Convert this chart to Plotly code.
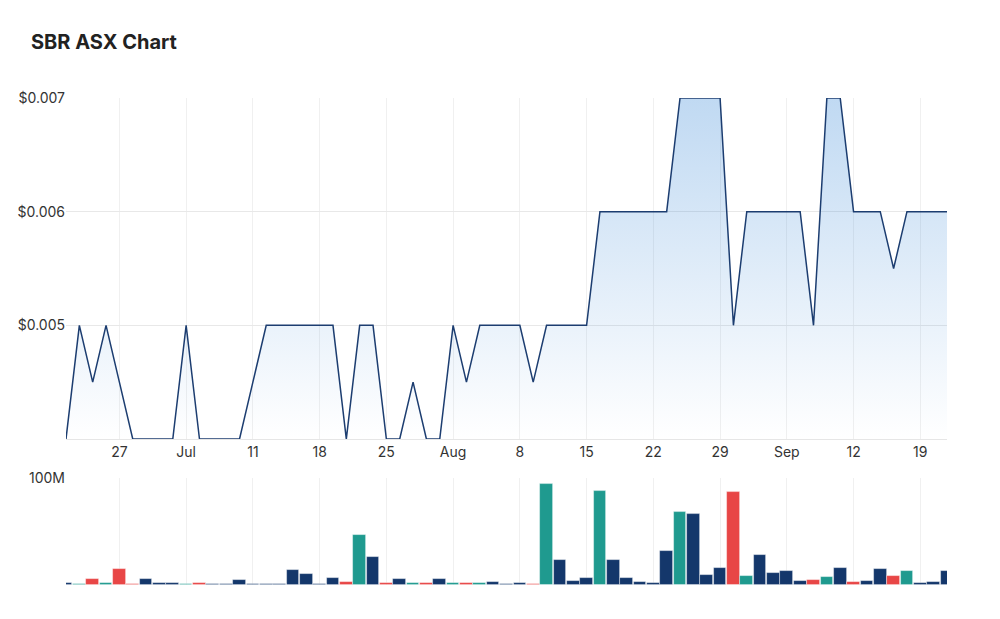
import plotly.graph_objects as go

# ---- data ----
dates = [
    "2022-06-21", "2022-06-22", "2022-06-23", "2022-06-24",
    "2022-06-27", "2022-06-28", "2022-06-29", "2022-06-30", "2022-07-01",
    "2022-07-04", "2022-07-05", "2022-07-06", "2022-07-07", "2022-07-08",
    "2022-07-11", "2022-07-12", "2022-07-13", "2022-07-14", "2022-07-15",
    "2022-07-18", "2022-07-19", "2022-07-20", "2022-07-21", "2022-07-22",
    "2022-07-25", "2022-07-26", "2022-07-27", "2022-07-28", "2022-07-29",
    "2022-08-01", "2022-08-02", "2022-08-03", "2022-08-04", "2022-08-05",
    "2022-08-08", "2022-08-09", "2022-08-10", "2022-08-11", "2022-08-12",
    "2022-08-15", "2022-08-16", "2022-08-17", "2022-08-18", "2022-08-19",
    "2022-08-22", "2022-08-23", "2022-08-24", "2022-08-25", "2022-08-26",
    "2022-08-29", "2022-08-30", "2022-08-31", "2022-09-01", "2022-09-02",
    "2022-09-05", "2022-09-06", "2022-09-07", "2022-09-08", "2022-09-09",
    "2022-09-12", "2022-09-13", "2022-09-14", "2022-09-15", "2022-09-16",
    "2022-09-19", "2022-09-20", "2022-09-21",
]

close = [
    0.004, 0.005, 0.0045, 0.005,
    0.0045, 0.004, 0.004, 0.004, 0.004,
    0.005, 0.004, 0.004, 0.004, 0.004,
    0.0045, 0.005, 0.005, 0.005, 0.005,
    0.005, 0.005, 0.004, 0.005, 0.005,
    0.004, 0.004, 0.0045, 0.004, 0.004,
    0.005, 0.0045, 0.005, 0.005, 0.005,
    0.005, 0.0045, 0.005, 0.005, 0.005,
    0.005, 0.006, 0.006, 0.006, 0.006,
    0.006, 0.006, 0.007, 0.007, 0.007,
    0.007, 0.005, 0.006, 0.006, 0.006,
    0.006, 0.006, 0.005, 0.007, 0.007,
    0.006, 0.006, 0.006, 0.0055, 0.006,
    0.006, 0.006, 0.006,
]

volume_m = [
    2.0, 1.2, 5.6, 2.0,
    14.7, 1.2, 5.6, 2.0, 2.0,
    1.2, 2.0, 1.2, 1.2, 4.7,
    1.2, 1.2, 1.2, 13.8, 10.7,
    1.2, 6.6, 2.5, 46.7, 26.6,
    1.6, 5.6, 1.6, 1.6, 5.6,
    1.6, 1.6, 1.6, 2.5, 1.2,
    1.9, 1.2, 94.4, 23.8, 3.8,
    6.6, 88.0, 23.8, 6.6, 2.5,
    1.6, 32.0, 68.0, 66.0, 9.7,
    15.7, 86.8, 8.5, 27.6, 11.6,
    12.9, 3.4, 4.7, 7.5, 15.7,
    2.5, 3.8, 14.7, 8.8, 12.9,
    1.6, 2.5, 12.9,
]

# u = up, d = down, n = neutral
direction = [
    "n", "u", "d", "u",
    "d", "d", "n", "n", "n",
    "u", "d", "n", "n", "n",
    "n", "n", "n", "n", "n",
    "n", "n", "d", "u", "n",
    "d", "n", "u", "d", "n",
    "u", "d", "u", "n", "n",
    "n", "d", "u", "n", "n",
    "n", "u", "n", "n", "n",
    "n", "n", "u", "n", "n",
    "n", "d", "u", "n", "n",
    "n", "n", "d", "u", "n",
    "d", "n", "n", "d", "u",
    "n", "n", "n",
]

tick_dates = ["2022-06-27", "2022-07-04", "2022-07-11", "2022-07-18", "2022-07-25",
              "2022-08-01", "2022-08-08", "2022-08-15", "2022-08-22", "2022-08-29",
              "2022-09-05", "2022-09-12", "2022-09-19"]
tick_labels = ["27", "Jul", "11", "18", "25", "Aug", "8", "15", "22", "29", "Sep", "12", "19"]

price_ticks = [0.005, 0.006, 0.007]
price_tick_labels = ["$0.005", "$0.006", "$0.007"]

# ---- styles ----
COLORS = {"u": "#1f9a8f", "d": "#e84646", "n": "#14376b"}
LINE = "#1c3d70"
FONT = "Inter, Roboto, sans-serif"
TICK_COLOR = "#333333"

volume = [v * 1e6 for v in volume_m]
bar_colors = [COLORS[d] for d in direction]

fig = go.Figure()

fig.add_trace(go.Scatter(
    x=dates, y=close, mode="lines",
    line=dict(color=LINE, width=1.5),
    fill="tozeroy",
    fillgradient=dict(
        type="vertical",
        colorscale=[[0, "rgba(30,120,210,0.0)"], [1, "rgba(30,120,210,0.28)"]],
        start=0.004, stop=0.007,
    ),
    xaxis="x", yaxis="y", hoverinfo="x+y", showlegend=False,
))

fig.add_trace(go.Bar(
    x=dates, y=volume,
    marker=dict(color=bar_colors, line=dict(color="rgba(255,255,255,0.5)", width=0.8)),
    width=0.95,
    xaxis="x2", yaxis="y2", showlegend=False,
))

grid_v = "#f0f0f0"
grid_h = "#e8e8e8"

fig.update_layout(
    width=1000, height=619,
    margin=dict(l=66, r=53, t=98, b=34),
    paper_bgcolor="white", plot_bgcolor="white",
    font=dict(family=FONT, size=14, color=TICK_COLOR),
    title=dict(
        text="<b>SBR ASX Chart</b>",
        x=0.031, xanchor="left", xref="container",
        y=1 - 42 / 619, yanchor="middle", yref="container",
        font=dict(family=FONT, size=20, color="#222222"),
    ),
    bargap=0,
    xaxis=dict(
        type="category", domain=[0, 1], anchor="y",
        range=[0, len(dates) - 1],
        tickmode="array", tickvals=tick_dates, ticktext=tick_labels,
        showgrid=True, gridcolor=grid_v, gridwidth=1,
        showline=True, linecolor="#e6e6e6", linewidth=1,
        ticks="", ticklen=0,
        tickfont=dict(size=14, color=TICK_COLOR),
        zeroline=False, fixedrange=True,
    ),
    yaxis=dict(
        domain=[146 / 487, 1], anchor="x",
        range=[0.004, 0.007],
        tickmode="array", tickvals=price_ticks, ticktext=price_tick_labels,
        showgrid=True, gridcolor=grid_h, gridwidth=1,
        zeroline=False, showline=False, ticks="",
        tickfont=dict(size=14, color=TICK_COLOR),
    ),
    xaxis2=dict(
        type="category", domain=[0, 1], anchor="y2",
        range=[0, len(dates) - 1],
        tickmode="array", tickvals=tick_dates,
        showticklabels=False,
        showgrid=True, gridcolor=grid_v, gridwidth=1,
        showline=False, ticks="", zeroline=False,
    ),
    yaxis2=dict(
        domain=[0, 107 / 487], anchor="x2",
        range=[0, 1e8],
        tickmode="array", tickvals=[1e8], ticktext=["100M"],
        showgrid=True, gridcolor=grid_h, gridwidth=1,
        zeroline=False, showline=False, ticks="",
        tickfont=dict(size=14, color=TICK_COLOR),
    ),
)

fig.write_html("out.html")
